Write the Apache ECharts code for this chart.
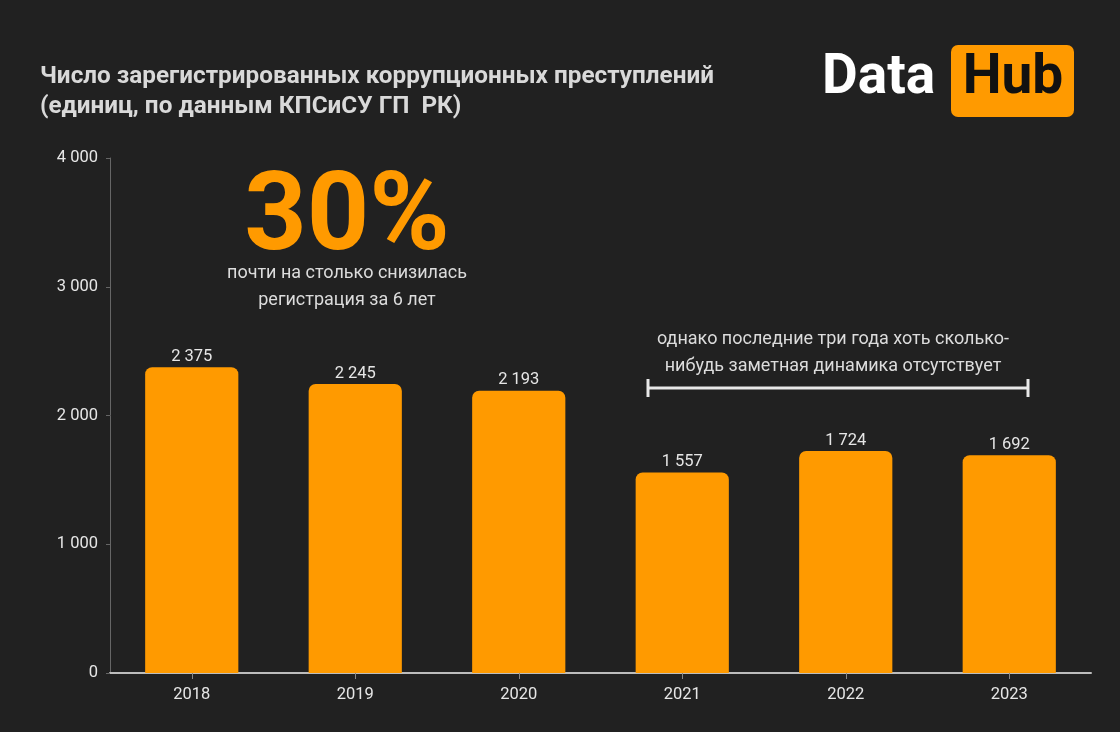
<!DOCTYPE html>
<html>
<head>
<meta charset="utf-8">
<script src="https://cdn.jsdelivr.net/npm/echarts@6/dist/echarts.min.js"></script>
<style>
  html, body { margin: 0; padding: 0; background: #212121; }
  #chart { width: 1120px; height: 732px; }
</style>
</head>
<body>
<div id="chart"></div>
<script>
const years = ["2018", "2019", "2020", "2021", "2022", "2023"];
const crimes = [2375, 2245, 2193, 1557, 1724, 1692];
const yTicks = [0, 1000, 2000, 3000, 4000];

const orange = "#ff9a00";
const textColor = "#e6e6e6";

// 1234 -> "1 234"
function fmt(v) {
  return String(v).replace(/\B(?=(\d{3})+(?!\d))/g, " ");
}

const chart = echarts.init(document.getElementById("chart"));
chart.setOption({
  backgroundColor: "#212121",
  animation: false,
  grid: { left: 110, right: 29, top: 158, bottom: 59 },
  xAxis: {
    type: "category",
    data: years,
    axisLine: { lineStyle: { color: "#bdbdbd", width: 2 } },
    axisTick: { show: true, alignWithLabel: true, length: 6, lineStyle: { color: "#888" } },
    axisLabel: { color: textColor, fontSize: 16.5, fontFamily: "Roboto", margin: 13 }
  },
  yAxis: {
    type: "value",
    min: yTicks[0],
    max: yTicks[yTicks.length - 1],
    interval: 1000,
    axisLine: { show: true, lineStyle: { color: "#666" } },
    axisTick: { show: true, length: 4, lineStyle: { color: "#666" } },
    splitLine: { show: false },
    axisLabel: { color: textColor, fontSize: 16.5, fontFamily: "Roboto", margin: 12, formatter: v => fmt(v) }
  },
  series: [{
    type: "bar",
    data: crimes,
    barWidth: "57%",
    itemStyle: { color: orange, borderRadius: [7, 7, 0, 0] },
    label: {
      show: true,
      position: "top",
      distance: 2,
      color: textColor,
      fontSize: 16.5,
      fontFamily: "Roboto",
      formatter: p => fmt(p.value)
    }
  }],
  graphic: [
    {
      type: "text", left: 40, top: 62,
      style: {
        text: "Число зарегистрированных коррупционных преступлений\n(единиц, по данным КПСиСУ ГП  РК)",
        fill: "#d9d9d9", font: "bold 24.3px Roboto", lineHeight: 30
      }
    },
    {
      type: "text", left: 822, top: 52,
      style: { text: "Data", fill: "#ffffff", font: "bold 55px Roboto" }
    },
    {
      type: "rect", shape: { x: 951, y: 45, width: 123, height: 72, r: 7 },
      style: { fill: orange }
    },
    {
      type: "text", x: 1013, y: 52,
      style: { text: "Hub", fill: "#111111", font: "bold 55px Roboto", align: "center" }
    },
    {
      type: "text", x: 347, y: 167,
      style: { text: "30%", fill: orange, font: "bold 109px Roboto", align: "center", verticalAlign: "top" }
    },
    {
      type: "text", x: 347, y: 260,
      style: {
        text: "почти на столько снизилась\nрегистрация за 6 лет",
        fill: "#dcdcdc", font: "18px Roboto", align: "center", lineHeight: 27
      }
    },
    {
      type: "text", x: 833, y: 326,
      style: {
        text: "однако последние три года хоть сколько-\nнибудь заметная динамика отсутствует",
        fill: "#dcdcdc", font: "18px Roboto", align: "center", lineHeight: 27
      }
    },
    {
      type: "line", shape: { x1: 648, y1: 388, x2: 1028, y2: 388 },
      style: { stroke: "#e8e8e8", lineWidth: 3 }
    },
    {
      type: "line", shape: { x1: 648, y1: 379, x2: 648, y2: 397 },
      style: { stroke: "#e8e8e8", lineWidth: 3 }
    },
    {
      type: "line", shape: { x1: 1028, y1: 379, x2: 1028, y2: 397 },
      style: { stroke: "#e8e8e8", lineWidth: 3 }
    }
  ]
});
</script>
</body>
</html>
